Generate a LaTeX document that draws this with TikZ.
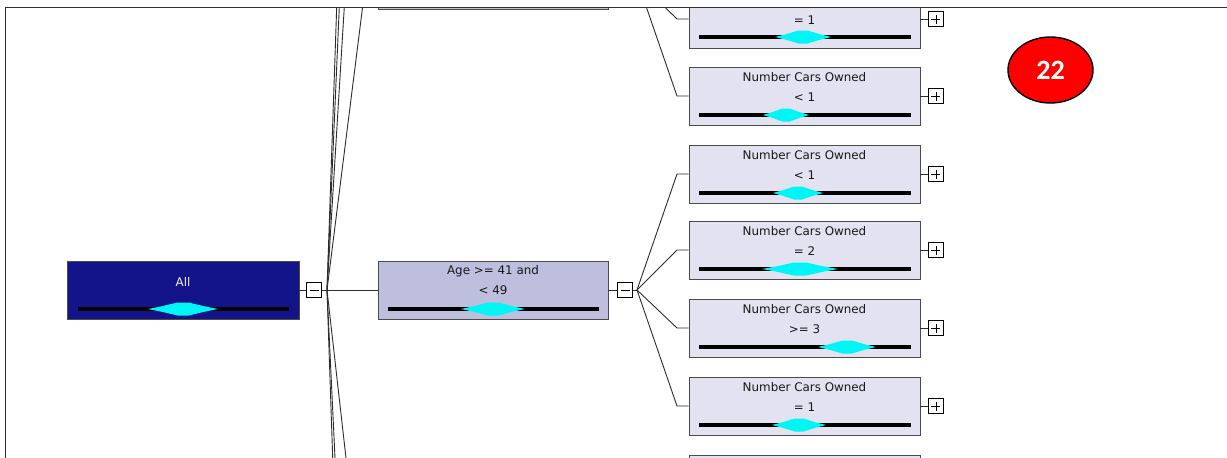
\documentclass[tikz,border=0pt]{standalone}
\usepackage{fontspec}
\setmainfont{DejaVu Sans}
\newfontfamily\badgefont{Carlito}
\usetikzlibrary{calc,shapes.geometric}
\definecolor{navyfill}{RGB}{20,20,138}
\definecolor{agefill}{RGB}{190,190,222}
\definecolor{leaffill}{RGB}{226,226,240}
\definecolor{boxborder}{RGB}{75,75,75}
\definecolor{linegray}{RGB}{45,45,45}
\definecolor{txtgray}{RGB}{25,25,25}
\definecolor{gaugecyan}{RGB}{0,245,245}
\newcommand\gaugebar[5]{% left x, right x, y, diamond centre, diamond width
  \draw[line width=4pt,black] (#1,#3) -- (#2,#3);
  \fill[gaugecyan] (#4-#5/2,#3) -- (#4-0.3*#5,#3-2.8) -- (#4-0.08*#5,#3-6.5) -- (#4+0.08*#5,#3-6.5)
     -- (#4+0.3*#5,#3-2.8) -- (#4+#5/2,#3) -- (#4+0.3*#5,#3+2.8) -- (#4+0.08*#5,#3+6.5)
     -- (#4-0.08*#5,#3+6.5) -- (#4-0.3*#5,#3+2.8) -- cycle;}
\begin{document}
\begin{tikzpicture}[x=1pt,y=-1pt,
  treebox/.style={draw=boxborder,line width=0.9pt,minimum height=58pt,inner sep=0pt},
  rootbox/.style={treebox,fill=navyfill,minimum width=232pt},
  splitbox/.style={treebox,fill=agefill,minimum width=230pt},
  leafbox/.style={treebox,fill=leaffill,minimum width=231pt},
  lbl/.style={font=\fontsize{11.9}{12}\selectfont,text=txtgray,inner sep=0pt},
  toggle/.style={draw=black,line width=0.7pt,fill=white,minimum size=15pt,inner sep=0pt},
  minusbox/.style={toggle,path picture={\draw[line width=0.8pt]
     ([xshift=-4.5pt]path picture bounding box.center) -- ([xshift=4.5pt]path picture bounding box.center);}},
  plusbox/.style={toggle,path picture={\draw[line width=0.8pt]
     ([xshift=-4.5pt]path picture bounding box.center) -- ([xshift=4.5pt]path picture bounding box.center)
     ([yshift=-4.5pt]path picture bounding box.center) -- ([yshift=4.5pt]path picture bounding box.center);}},
  conn/.style={draw=linegray,line width=0.9pt}]
\useasboundingbox (0,0) rectangle (1227,458);
\fill[white] (0,0) rectangle (1227,458);
\begin{scope}
\clip (5,7) rectangle (1227,458);
% ---- nodes ----
\node[rootbox] (all) at (183,290) {};
\node[font=\fontsize{11.9}{12}\selectfont,text=white!88!gray,inner sep=0pt] (alltxt) at (183,282) {All};
\gaugebar{78}{289}{309}{183}{70}
\node[minusbox] (c1) at (314,290) {};
\coordinate (j1) at (327,290);

\node[splitbox] (up1) at (493,-20) {};
\node[splitbox] (age) at (493,290) {};
\node[lbl] (agel1) at (493,271) {Age >= 41 and};
\node[lbl] (agel2) at (493,290) {< 49};
\gaugebar{388}{599}{309}{493}{64}
\node[minusbox] (c2) at (625,290) {};
\coordinate (j2) at (637,290);
\node[minusbox] (cu) at (625,-20) {};
\coordinate (ju) at (637,-20);

% leaves
\node[leafbox] (n1) at (804.5,19) {};
\node[lbl] (n1b) at (804.5,20) {= 1};
\gaugebar{699}{911}{37}{803}{56}
\node[leafbox] (n2) at (804.5,96) {};
\node[lbl] (n2a) at (804.5,77) {Number Cars Owned};
\node[lbl] (n2b) at (804.5,97) {< 1};
\gaugebar{699}{911}{115}{786}{46}
\node[leafbox] (n3) at (804.5,174) {};
\node[lbl] (n3a) at (804.5,155) {Number Cars Owned};
\node[lbl] (n3b) at (804.5,175) {< 1};
\gaugebar{699}{911}{193}{798}{50}
\node[leafbox] (n4) at (804.5,250) {};
\node[lbl] (n4a) at (804.5,231) {Number Cars Owned};
\node[lbl] (n4b) at (804.5,251) {= 2};
\gaugebar{699}{911}{269}{800}{76}
\node[leafbox] (n5) at (804.5,328) {};
\node[lbl] (n5a) at (804.5,309) {Number Cars Owned};
\node[lbl] (n5b) at (804.5,329) {>= 3};
\gaugebar{699}{911}{347}{847}{58}
\node[leafbox] (n6) at (804.5,406) {};
\node[lbl] (n6a) at (804.5,387) {Number Cars Owned};
\node[lbl] (n6b) at (804.5,407) {= 1};
\gaugebar{699}{911}{425}{799}{54}
\node[leafbox] (n7) at (804.5,484) {};

\foreach \i in {1,...,6} {
  \node[plusbox] (p\i) at ($(n\i.east)+(15.5,0)$) {};
  \draw[conn] (n\i.east) -- (p\i.west);
}

% ---- connectors ----
\coordinate (bu1) at (366,-20);
\coordinate (bu2) at (366,-348);
\coordinate (bu3) at (366,-607);
\coordinate (bu4) at (366,-848);
\coordinate (bd1) at (366,635);
\coordinate (bd2) at (366,1109);
\coordinate (bd3) at (366,1439);
\draw[conn] (all.east) -- (c1.west);
\draw[conn] (c1.east) -- (j1);
\draw[conn] (j1) -- (age.west);
\draw[conn] (j1) -- (bu1) -- (up1.west);
\draw[conn] (j1) -- (bu2);
\draw[conn] (j1) -- (bu3);
\draw[conn] (j1) -- (bu4);
\draw[conn] (j1) -- (bd1);
\draw[conn] (j1) -- (bd2);
\draw[conn] (j1) -- (bd3);

\draw[conn] (age.east) -- (c2.west);
\draw[conn] (c2.east) -- (j2);
\draw[conn] (up1.east) -- (cu.west);
\draw[conn] (cu.east) -- (ju);
\draw[conn] (ju) -- (677,19) -- (n1.west);
\draw[conn] (ju) -- (677,96) -- (n2.west);
\draw[conn] (j2) -- (677,174) -- (n3.west);
\draw[conn] (j2) -- (677,250) -- (n4.west);
\draw[conn] (j2) -- (677,328) -- (n5.west);
\draw[conn] (j2) -- (677,406) -- (n6.west);
\end{scope}
% frame
\draw[line width=1pt,black!80] (5,458) -- (5,7) -- (1227,7);
% badge
\node[ellipse,draw=black,line width=1.4pt,fill=red,minimum width=85pt,minimum height=66pt,
  inner sep=0pt,text=white,font=\badgefont\bfseries\fontsize{28}{28}\selectfont] (badge) at (1050.5,70) {22};
\end{tikzpicture}
\end{document}
